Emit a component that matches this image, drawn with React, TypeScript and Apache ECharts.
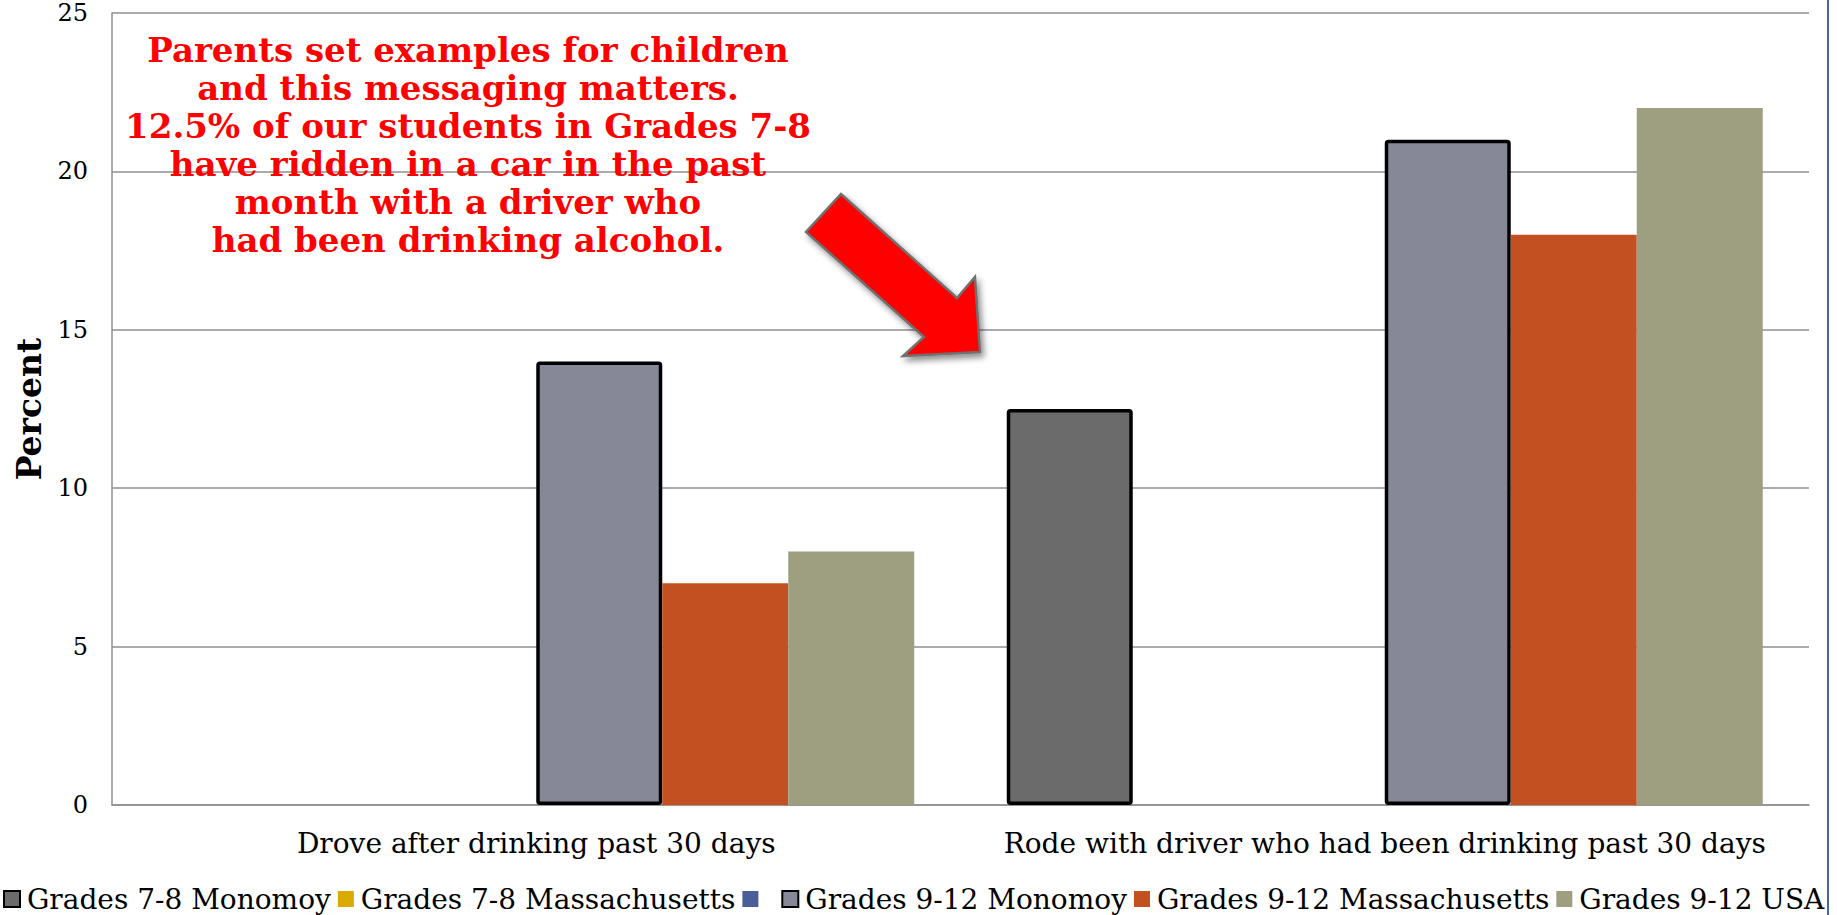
import React, { useEffect, useRef } from "react";
import * as echarts from "echarts";

const categories = [
  "Drove after drinking past 30 days",
  "Rode with driver who had been drinking past 30 days",
];
const seriesNames = [
  "Grades 7-8 Monomoy",
  "Grades 7-8 Massachusetts",
  " ",
  "Grades 9-12 Monomoy",
  "Grades 9-12 Massachusetts",
  "Grades 9-12 USA",
];
const grades78Monomoy = [null, 12.5];
const grades78Massachusetts = [null, null];
const unnamedSeries = [null, null];
const grades912Monomoy = [14, 21];
const grades912Massachusetts = [7, 18];
const grades912USA = [8, 22];
const seriesValues = [
  grades78Monomoy,
  grades78Massachusetts,
  unnamedSeries,
  grades912Monomoy,
  grades912Massachusetts,
  grades912USA,
];
const seriesColors = ["#6b6b6b", "#d9aa00", "#4a5f9a", "#868898", "#c25020", "#9e9e80"];
const seriesBordered = [true, false, false, true, false, false];
const yTicks = { min: 0, max: 25, interval: 5 };
const annotationLines = [
  "Parents set examples for children",
  "and this messaging matters.",
  "12.5% of our students in Grades 7-8",
  "have ridden in a car in the past",
  "month with a driver who",
  "had been drinking alcohol.",
];

const SERIF = "'DejaVu Serif', 'Liberation Serif', serif";

export default function App() {
  const ref = useRef<HTMLDivElement>(null);
  useEffect(() => {
    if (!ref.current) return;
    const chart = echarts.init(ref.current, null, { renderer: "svg" });
    const series = seriesNames.map((name, i) => ({
      name,
      type: "bar",
      data: seriesValues[i],
      barWidth: 126,
      barGap: "0%",
      itemStyle: seriesBordered[i]
        ? { color: seriesColors[i], borderColor: "#000", borderWidth: 3.5, borderRadius: 2 }
        : { color: seriesColors[i] },
    }));
    chart.setOption({
      animation: false,
      backgroundColor: "#ffffff",
      grid: { left: 112, right: 28, top: 13, bottom: 110, containLabel: false },
      legend: {
        data: seriesNames,
        left: 3,
        top: 885,
        width: 1830,
        padding: 0,
        itemWidth: 16,
        itemHeight: 16,
        itemGap: 7,
        icon: "rect",
        textStyle: {
          fontFamily: SERIF,
          fontSize: 28,
          lineHeight: 28,
          color: "#000",
          padding: [0, 0, 0, 2],
        },
      },
      xAxis: {
        type: "category",
        data: categories,
        axisLine: { show: true, lineStyle: { color: "#8f8f8f", width: 1.5 } },
        axisTick: { show: false },
        axisLabel: {
          interval: 0,
          fontFamily: SERIF,
          fontSize: 28,
          color: "#000",
          margin: 24,
        },
      },
      yAxis: {
        type: "value",
        min: yTicks.min,
        max: yTicks.max,
        interval: yTicks.interval,
        name: "Percent",
        nameLocation: "middle",
        nameGap: 66,
        nameTextStyle: {
          fontFamily: SERIF,
          fontSize: 33,
          fontWeight: "bold",
          color: "#000",
        },
        axisLine: { show: true, lineStyle: { color: "#8f8f8f", width: 1.5 } },
        axisTick: { show: false },
        splitLine: { show: true, lineStyle: { color: "#8f8f8f", width: 1.5 } },
        axisLabel: {
          fontFamily: SERIF,
          fontSize: 24,
          color: "#000",
          margin: 24,
        },
      },
      series,
      graphic: [
        {
          type: "text",
          x: 468,
          y: 31,
          z: 100,
          style: {
            text: annotationLines.join("\n"),
            fill: "#ff0000",
            font: `bold 34px ${SERIF}`,
            align: "center",
            verticalAlign: "top",
            lineHeight: 38,
          },
        },
        {
          type: "polygon",
          z: 100,
          shape: {
            points: [
              [841, 194],
              [957, 298],
              [975, 277],
              [980, 352],
              [903, 356],
              [924, 337],
              [806, 232],
            ],
          },
          style: {
            fill: "#ff0000",
            stroke: "#707070",
            lineWidth: 2.5,
            shadowBlur: 6,
            shadowColor: "rgba(0,0,0,0.45)",
            shadowOffsetX: 3,
            shadowOffsetY: 4,
          },
        },
        {
          type: "line",
          z: 100,
          shape: { x1: 1828, y1: 0, x2: 1828, y2: 915 },
          style: { stroke: "#4a62a8", lineWidth: 2 },
        },
      ],
    });
    return () => chart.dispose();
  }, []);
  return (
    <div
      ref={ref}
      style={{ position: "fixed", left: 0, top: 0, width: 1837, height: 915, background: "#fff" }}
    />
  );
}
